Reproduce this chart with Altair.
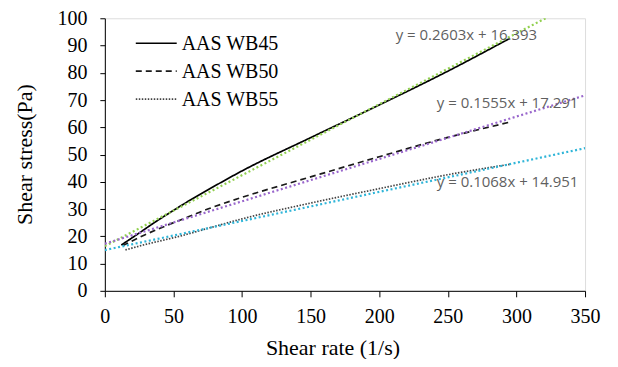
import altair as alt
import pandas as pd

# ---- data ----
series_names = ["AAS WB45", "AAS WB50", "AAS WB55"]
series_colors = ["#000000", "#1a1a1a", "#444444"]
series_dashes = [[1, 0], [6, 4], [1.5, 1.5]]

wb45_x = [12, 25, 36, 50, 58, 75, 100, 150, 200, 250, 295]
wb45_y = [16.8, 21.2, 25.0, 29.5, 32.0, 37.0, 44.0, 56.2, 68.2, 80.6, 92.6]

wb50_x = [13, 29, 58, 75, 100, 150, 200, 250, 296]
wb50_y = [16.6, 20.5, 26.6, 30.0, 34.3, 41.8, 49.2, 56.3, 62.0]

wb55_x = [15, 25, 58, 75, 100, 150, 200, 250, 296]
wb55_y = [15.0, 16.4, 20.5, 22.9, 26.4, 32.2, 37.5, 42.6, 46.5]

fit_slopes = [0.2603, 0.1555, 0.1068]
fit_intercepts = [16.393, 17.291, 14.951]
fit_colors = ["#92D050", "#9966CC", "#2FB5D8"]
fit_x_range = [0, 350]
fit_labels = ["y = 0.2603x + 16.393", "y = 0.1555x + 17.291", "y = 0.1068x + 14.951"]
label_x = [212, 242, 242]
label_y = [94.0, 69.0, 40.0]

x_ticks = [0, 50, 100, 150, 200, 250, 300, 350]
y_ticks = [0, 10, 20, 30, 40, 50, 60, 70, 80, 90, 100]

# ---- tables ----
rows = []
for name, xs_, ys_ in zip(series_names, [wb45_x, wb50_x, wb55_x], [wb45_y, wb50_y, wb55_y]):
    for xv, yv in zip(xs_, ys_):
        rows.append({"series": name, "x": xv, "y": yv})
df = pd.DataFrame(rows)

xs = alt.Scale(domain=[0, 350], nice=False)
ys = alt.Scale(domain=[0, 100], nice=False)

serif = "Liberation Serif"

x_axis = alt.Axis(values=x_ticks, title="Shear rate (1/s)", grid=False,
                  tickSize=6, labelPadding=10, labelFont=serif, labelFontSize=20,
                  labelColor="black", domainColor="black", tickColor="black",
                  titleFont=serif, titleFontSize=22, titleFontWeight="normal",
                  titleColor="black", titleBaseline="alphabetic", titleY=64, titleX=228,
                  labelFlush=False, labelOverlap=False)
y_axis = alt.Axis(values=y_ticks, title="Shear stress(Pa)", grid=False,
                  tickSize=5, labelPadding=13, labelFont=serif, labelFontSize=20,
                  labelColor="black", domainColor="black", tickColor="black",
                  titleFont=serif, titleFontSize=22, titleFontWeight="normal",
                  titleColor="black", titleBaseline="alphabetic", titleX=-73, titleY=136,
                  labelFlush=False, labelOverlap=False)

X = alt.X("x:Q", scale=xs, axis=x_axis)
Y = alt.Y("y:Q", scale=ys, axis=y_axis)

data_lines = alt.Chart(df).mark_line(strokeWidth=1.7, interpolate="monotone").encode(
    x=X, y=Y,
    color=alt.Color("series:N",
                    scale=alt.Scale(domain=series_names, range=series_colors),
                    legend=None),
    strokeDash=alt.StrokeDash("series:N",
                              scale=alt.Scale(domain=series_names, range=series_dashes),
                              legend=None),
)

layers = []
for a, b, c in zip(fit_slopes, fit_intercepts, fit_colors):
    fdf = pd.DataFrame({"x": fit_x_range})
    ln = alt.Chart(fdf).transform_calculate(
        y=f"{a} * datum.x + {b}"
    ).mark_line(color=c, strokeWidth=2.2, strokeDash=[2, 2.5], clip=True).encode(
        x=X, y=Y
    )
    layers.append(ln)

ldf = pd.DataFrame({"label": fit_labels, "x": label_x, "y": label_y})
labels = alt.Chart(ldf).mark_text(align="left", baseline="middle", font="Open Sans",
                                  fontSize=15, color="#5f5f5f").encode(
    x=X, y=Y, text="label:N"
)

# ---- hand-built legend (top-left, inside the plot) ----
legend_layers = []
for i, (name, col, dash) in enumerate(zip(series_names, series_colors, series_dashes)):
    one = pd.DataFrame({"series": [name]})
    row_y = 25 + 28 * i
    legend_layers.append(
        alt.Chart(one).mark_rule(color=col, strokeDash=dash, strokeWidth=1.7).encode(
            x=alt.value(31), x2=alt.value(72), y=alt.value(row_y))
    )
    legend_layers.append(
        alt.Chart(one).mark_text(align="left", baseline="middle", font=serif,
                                 fontSize=20, color="black").encode(
            x=alt.value(77), y=alt.value(row_y + 1), text="series:N")
    )

chart = alt.layer(data_lines, *layers, labels, *legend_layers).properties(
    width=481, height=273,
    autosize=alt.AutoSizeParams(type="none"),
    padding={"left": 97, "top": 10, "right": 25, "bottom": 68},
).configure_view(stroke="black", strokeWidth=1.5).configure(background="white")

chart.save("out.html", embed_options={"renderer": "svg", "actions": False})
